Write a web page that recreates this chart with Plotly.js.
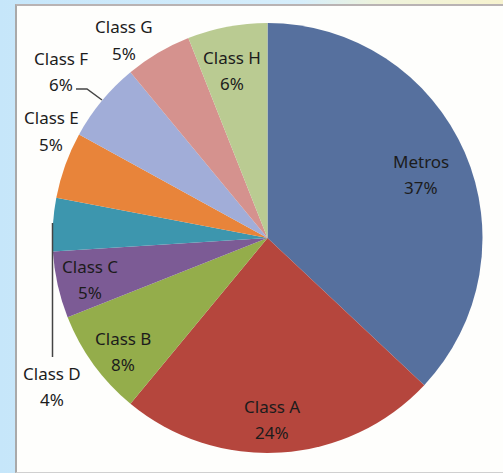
<!DOCTYPE html>
<html>
<head>
<meta charset="utf-8">
<script src="https://cdn.plot.ly/plotly-3.0.1.min.js"></script>
<style>
  html, body { margin: 0; padding: 0; width: 503px; height: 473px; overflow: hidden; }
  body { background: linear-gradient(90deg, #c6e6fa 0%, #d6eefb 60%, #eef3dc 75%, #f7f3cf 100%); position: relative; }
  #panel { position: absolute; left: 15px; top: 4px; width: 490px; height: 466px;
           background: #fefefc; border-top: 2px solid #b9b3b3; border-left: 2px solid #a9a9a9; border-bottom: 1px solid #d0d0d0; }
  #chart { position: absolute; left: 0; top: 0; width: 503px; height: 473px; }
</style>
</head>
<body>
<div id="panel"></div>
<div id="chart"></div>
<script>
// ---- data ----
const labels = ["Metros", "Class A", "Class B", "Class C", "Class D", "Class E", "Class F", "Class G", "Class H"];
const values = [37, 24, 8, 5, 4, 5, 6, 5, 6];
const colors = ["#56709e", "#b5463d", "#94ad4b", "#7c5b95", "#3d96ae", "#e8843a", "#a1add8", "#d5928e", "#bacb92"];

// ---- label placement (pixel centres of name line; percent line sits below) ----
const W = 503, H = 473;
const labelPos = {
  "Metros":  [421, 161], "Class A": [272, 406], "Class B": [123, 338], "Class C": [90, 266],
  "Class D": [52, 373],  "Class E": [51, 118],  "Class F": [61, 58],   "Class G": [124, 27],
  "Class H": [232, 57]
};
const lineGap = 26;
const px = (x, y) => [x / W, 1 - y / H];

const font = {family: "Noto Sans, sans-serif", size: 17, color: "#1c1c1c"};
const annotations = [];
labels.forEach((lab, i) => {
  const [x, y] = labelPos[lab];
  const a = px(x, y), b = px(x, y + lineGap);
  annotations.push({xref: "paper", yref: "paper", x: a[0], y: a[1], text: lab, showarrow: false,
                    xanchor: "center", yanchor: "middle", font: font});
  annotations.push({xref: "paper", yref: "paper", x: b[0], y: b[1], text: values[i] + "%", showarrow: false,
                    xanchor: "center", yanchor: "middle", font: font});
});

// leader lines
const pathOf = pts => pts.map((p, i) => { const q = px(p[0], p[1]); return (i ? "L" : "M") + q[0] + "," + q[1]; }).join(" ");
const shapes = [
  {type: "path", xref: "paper", yref: "paper", path: pathOf([[52.5, 223], [52.5, 357]]), line: {color: "#444", width: 1.5}},
  {type: "path", xref: "paper", yref: "paper", path: pathOf([[76, 89], [87, 89], [102, 100]]), line: {color: "#444", width: 1.5}}
];

const cx = 267.5, cy = 238, r = 215;
const trace = {
  type: "pie",
  labels: labels,
  values: values,
  sort: false,
  direction: "clockwise",
  rotation: 0,
  textinfo: "none",
  marker: {colors: colors, line: {width: 0}},
  domain: {x: [(cx - r) / W, (cx + r) / W], y: [1 - (cy + r) / H, 1 - (cy - r) / H]},
  showlegend: false
};

const layout = {
  width: W, height: H,
  margin: {l: 0, r: 0, t: 0, b: 0},
  paper_bgcolor: "rgba(0,0,0,0)",
  plot_bgcolor: "rgba(0,0,0,0)",
  showlegend: false,
  annotations: annotations,
  shapes: shapes
};

Plotly.newPlot("chart", [trace], layout, {displayModeBar: false, staticPlot: true});
</script>
</body>
</html>
